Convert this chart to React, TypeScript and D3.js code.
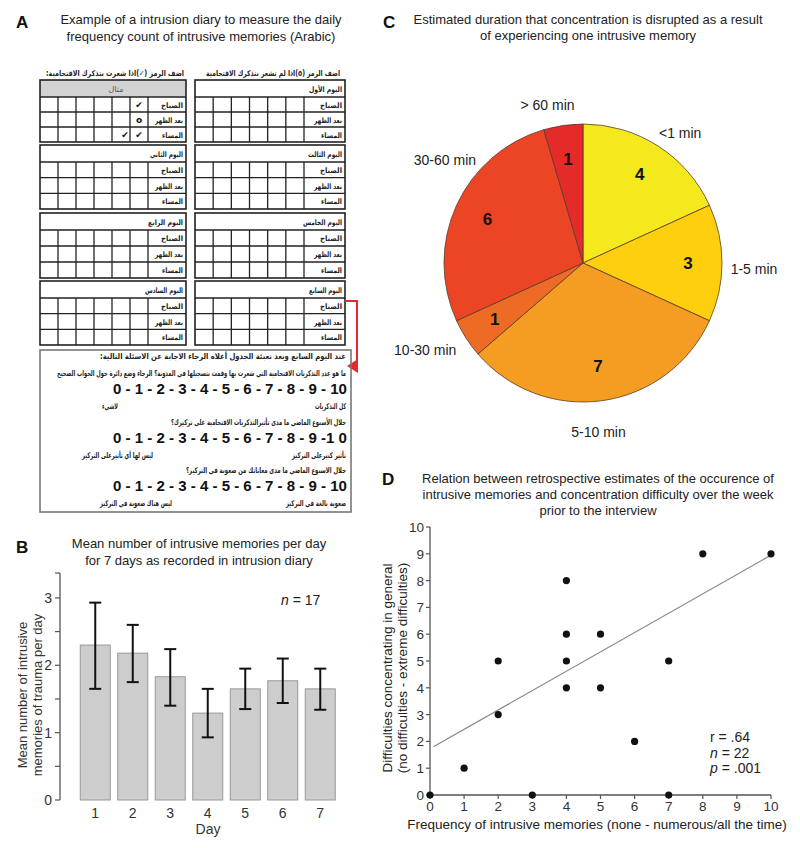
import React from 'react';
import * as d3 from 'd3';

const SANS = '"Liberation Sans", Arial, Helvetica, sans-serif';
const ARABIC = '"DejaVu Sans", "Noto Sans", sans-serif';
const rtl = (s: string) => '\u202B' + s + '\u202C';

// ---------- Panel A content ----------
const diaryTitle = ['Example of a intrusion diary to measure the daily', 'frequency count of intrusive memories (Arabic)'];
const headerRight = 'اضف الرمز (o)اذا لم تشعر بتذكرك الاقتحامية';
const headerLeft = 'اضف الرمز (✓)اذا شعرت بتذكرك الاقتحامية:';
const dayNamesLeft = ['مثال', 'اليوم الثاني', 'اليوم الرابع', 'اليوم السادس'];
const dayNamesRight = ['اليوم الأول', 'اليوم الثالث', 'اليوم الخامس', 'اليوم السابع'];
const periods = ['الصباح', 'بعد الظهر', 'المساء'];
const exampleRows = [0, 1, 2, 2];
const exampleCols = [5, 5, 5, 4];
const exampleMarks = ['✔', 'o', '✔', '✔'];
const questionIntro = 'عند اليوم السابع وبعد تعبئة الجدول أعلاه الرجاء الاجابة عن الاسئلة التالية:';
const questions = [
  'ما هو عدد التذكريات الاقتحامية التي شعرت بها وقمت بتسجيلها في المدونة؟ الرجاء وضع دائرة حول الجواب الصحيح',
  'خلال الأسبوع الماضي ما مدى تأثيرالتذكريات الاقتحامية على تركيزك؟',
  'خلال الاسبوع الماضي ما مدى معاناتك من صعوبة في التركيز؟',
];
const scaleLines = [
  '0 - 1 - 2 - 3 - 4 - 5 - 6 - 7 - 8 - 9 - 10',
  '0 - 1 - 2 - 3 - 4 - 5 - 6 - 7 - 8 - 9 -1 0',
  '0 - 1 - 2 - 3 - 4 - 5 - 6 - 7 - 8 - 9 - 10',
];
const anchorRight = ['كل التذكريات', 'تأثير كبيرعلى التركيز', 'صعوبة بالغة في التركيز'];
const anchorLeft = ['لاشيء', 'ليس لها أي تأثيرعلى التركيز', 'ليس هناك صعوبة في التركيز'];

// text widths (layout only)
const titleWLeft = [0, 33, 35, 38];
const titleWRight = [33, 34, 39, 33];
const periodW = [22, 28, 21];

// ---------- Panel B data ----------
const bTitle = ['Mean number of intrusive memories per day', 'for 7 days as recorded in intrusion diary'];
const days = ['1', '2', '3', '4', '5', '6', '7'];
const dayMeans = [2.3, 2.18, 1.83, 1.29, 1.65, 1.77, 1.65];
const dayErrLow = [1.65, 1.75, 1.4, 0.93, 1.35, 1.44, 1.34];
const dayErrHigh = [2.93, 2.6, 2.24, 1.65, 1.95, 2.1, 1.95];
const bYTicks = [0, 0.5, 1, 1.5, 2, 2.5, 3, 3.37];
const bYLabels = [0, 1, 2, 3];

// ---------- Panel C data ----------
const cTitle = ['Estimated duration that concentration is disrupted as a result', 'of experiencing one intrusive memory'];
const durationLabels = ['<1 min', '1-5 min', '5-10 min', '10-30 min', '30-60 min', '> 60 min'];
const durationCounts = [4, 3, 7, 1, 6, 1];
const durationColors = ['#f4e91c', '#fdcf0e', '#f59d22', '#ee6b25', '#eb4525', '#e52a2a'];
const labelNudgeX = [8, 6, -8, -19, 12, -12];
const labelNudgeY = [9, 6, 6, -2, -34, 5];

// ---------- Panel D data ----------
const dTitle = [
  'Relation between retrospective estimates of the occurence of',
  'intrusive memories and concentration difficulty over the week',
  'prior to the interview',
];
const freqX = [0, 1, 2, 2, 3, 4, 4, 4, 4, 5, 5, 6, 7, 7, 8, 10];
const diffY = [0, 1, 5, 3, 0, 8, 6, 5, 4, 6, 4, 2, 5, 0, 9, 9];
const regIntercept = 1.73;
const regSlope = 0.722;
const regRange = [0.1, 10];
const dTicks = [0, 1, 2, 3, 4, 5, 6, 7, 8, 9, 10];

const Block = ({ x0, x1, top, h, title, titleW, example }: any) => {
  const headerH = 17;
  const rowH = (h - headerH) / 3;
  const labelW = x1 - x0 > 148 ? 41 : 38;
  const cellW = (x1 - x0 - labelW) / 6;
  return (
    <g>
      <rect x={x0} y={top} width={x1 - x0} height={headerH} fill={example ? '#d2d2d2' : '#fff'} stroke="none" />
      {periods.map((p, r) => (
        <line key={'h' + r} x1={x0} x2={x1} y1={top + headerH + r * rowH} y2={top + headerH + r * rowH} stroke="#222" strokeWidth={1.3} />
      ))}
      {d3.range(1, 7).map((c) => (
        <line key={'v' + c} x1={x0 + c * cellW} x2={x0 + c * cellW} y1={top + headerH} y2={top + h} stroke="#222" strokeWidth={1.3} />
      ))}
      <rect x={x0} y={top} width={x1 - x0} height={h} fill="none" stroke="#222" strokeWidth={1.6} />
      {example ? (
        <text x={(x0 + x1) / 2 + 3} y={top + 12} fontFamily={ARABIC} fontSize={8} fill="#555" textAnchor="middle">{title}</text>
      ) : (
        <text x={x1 - 3} y={top + 12} fontFamily={ARABIC} fontSize={7.5} fontWeight="bold" fill="#222" textAnchor="end"
          textLength={titleW} lengthAdjust="spacingAndGlyphs">{rtl(title)}</text>
      )}
      {periods.map((p, r) => (
        <text key={'p' + r} x={x1 - 3} y={top + headerH + r * rowH + rowH / 2 + 3} fontFamily={ARABIC} fontSize={7.5} fontWeight="bold" fill="#222" textAnchor="end"
          textLength={periodW[r]} lengthAdjust="spacingAndGlyphs">{rtl(p)}</text>
      ))}
      {example &&
        exampleMarks.map((m, i) => (
          <text key={'m' + i} x={x0 + exampleCols[i] * cellW + cellW / 2 + (exampleCols[i] === 4 ? 4 : 0)} y={top + headerH + exampleRows[i] * rowH + rowH / 2 + 3.5}
            fontFamily={ARABIC} fontSize={9} fontWeight="bold" fill="#111" textAnchor="middle">{m}</text>
        ))}
    </g>
  );
};

const ArText = ({ x, y, len, children }: any) => (
  <text x={x} y={y} fontFamily={ARABIC} fontSize={8} fontWeight="bold" fill="#222"
    textAnchor="end" textLength={len} lengthAdjust="spacingAndGlyphs">{rtl(children)}</text>
);

export default function App() {
  // Panel B scales
  const yB = d3.scaleLinear().domain([0, 3.37]).range([800, 573]);
  const xB = d3.scaleBand().domain(days).range([76.5, 339]).paddingInner(0.2).paddingOuter(0.1);

  // Panel C
  const cx = 583, cy = 263, R = 139;
  const pie = d3.pie<number>().sort(null).value((d) => d)(durationCounts);
  const arc = d3.arc<any>().innerRadius(0).outerRadius(R);
  const numArc = d3.arc<any>().innerRadius(105).outerRadius(105);
  const labArc = d3.arc<any>().innerRadius(165).outerRadius(165);

  // Panel D
  const xD = d3.scaleLinear().domain([0, 10]).range([430, 771]);
  const yD = d3.scaleLinear().domain([0, 10]).range([795, 527]);

  const blockTops = [80, 145, 213, 281];
  const blockH = [62, 64, 65, 64];

  return (
    <svg width={800} height={848} style={{ position: 'absolute', left: 0, top: 0, background: '#fff' }} fontFamily={SANS}>
      <rect x={0} y={0} width={800} height={848} fill="#fff" />
      {/* ---------- Panel A ---------- */}
      <text x={16} y={28} fontSize={17} fontWeight="bold" fill="#111">A</text>
      {diaryTitle.map((t, i) => (
        <text key={i} x={201} y={24 + i * 17} fontSize={13} fill="#222" textAnchor="middle">{t}</text>
      ))}
      <ArText x={340} y={76} len={134}>{headerRight}</ArText>
      <ArText x={184} y={76} len={138}>{headerLeft}</ArText>
      {blockTops.map((t, i) => (
        <g key={i}>
          <Block x0={40} x1={186} top={t} h={blockH[i]} title={dayNamesLeft[i]} titleW={titleWLeft[i]} example={i === 0} />
          <Block x0={195} x1={345} top={t} h={blockH[i]} title={dayNamesRight[i]} titleW={titleWRight[i]} example={false} />
        </g>
      ))}
      {/* red connector */}
      <path d="M345,301 H357 V366" fill="none" stroke="#e8282a" strokeWidth={2} />
      <polygon points="347,366 358,359 358,373" fill="#e8282a" />
      {/* question box */}
      <rect x={40} y={350} width={311} height={162} fill="none" stroke="#777" strokeWidth={1.6} />
      <ArText x={346} y={359} len={246}>{questionIntro}</ArText>
      {questions.map((q, i) => {
        const base = [376, 425, 473][i];
        const lens = [289, 175, 160];
        return (
          <g key={i}>
            <ArText x={346} y={base} len={lens[i]}>{q}</ArText>
            <text x={113} y={base + 18} fontSize={14} fontWeight="bold" fill="#111" textLength={234} lengthAdjust="spacingAndGlyphs">{scaleLines[i]}</text>
            <ArText x={346} y={base + 33} len={[31, 54, 60][i]}>{anchorRight[i]}</ArText>
            <ArText x={[118, 153, 172][i]} y={base + 33} len={[16, 71, 72][i]}>{anchorLeft[i]}</ArText>
          </g>
        );
      })}

      {/* ---------- Panel B ---------- */}
      <text x={16} y={553} fontSize={17} fontWeight="bold" fill="#111">B</text>
      {bTitle.map((t, i) => (
        <text key={i} x={199} y={548 + i * 17} fontSize={13} fill="#222" textAnchor="middle">{t}</text>
      ))}
      <line x1={60} x2={60} y1={yB(3.37)} y2={yB(0)} stroke="#555" strokeWidth={1.3} />
      {bYTicks.map((t) => (
        <line key={t} x1={55} x2={60} y1={yB(t)} y2={yB(t)} stroke="#555" strokeWidth={1.2} />
      ))}
      {bYLabels.map((t) => (
        <text key={t} x={52} y={yB(t) + 5} fontSize={14} fill="#333" textAnchor="end">{t}</text>
      ))}
      <text transform={`translate(27,695) rotate(-90)`} fontSize={13} fill="#333" textAnchor="middle">
        <tspan x={0} dy={0}>Mean number of intrusive</tspan>
        <tspan x={0} dy={15}>memories of trauma per day</tspan>
      </text>
      {days.map((d, i) => {
        const x = xB(d)!;
        const w = xB.bandwidth();
        const cxb = x + w / 2;
        return (
          <g key={d}>
            <rect x={x} y={yB(dayMeans[i])} width={w} height={yB(0) - yB(dayMeans[i])} fill="#cdcdcd" stroke="#999" strokeWidth={1} />
            <line x1={cxb} x2={cxb} y1={yB(dayErrLow[i])} y2={yB(dayErrHigh[i])} stroke="#111" strokeWidth={2} />
            <line x1={cxb - 6} x2={cxb + 6} y1={yB(dayErrLow[i])} y2={yB(dayErrLow[i])} stroke="#111" strokeWidth={2} />
            <line x1={cxb - 6} x2={cxb + 6} y1={yB(dayErrHigh[i])} y2={yB(dayErrHigh[i])} stroke="#111" strokeWidth={2} />
            <text x={cxb} y={818} fontSize={14} fill="#333" textAnchor="middle">{d}</text>
          </g>
        );
      })}
      <text x={208} y={834} fontSize={14} fill="#333" textAnchor="middle">Day</text>
      <text x={281} y={605} fontSize={14} fill="#222"><tspan fontStyle="italic">n</tspan> = 17</text>

      {/* ---------- Panel C ---------- */}
      <text x={383} y={28} fontSize={17} fontWeight="bold" fill="#111">C</text>
      {cTitle.map((t, i) => (
        <text key={i} x={588} y={24 + i * 16} fontSize={13} fill="#222" textAnchor="middle">{t}</text>
      ))}
      <g transform={`translate(${cx},${cy})`}>
        {pie.map((p, i) => (
          <path key={i} d={arc(p)!} fill={durationColors[i]} stroke="#5a3b2b" strokeWidth={0.8} />
        ))}
        {pie.map((p, i) => {
          const [nx, ny] = numArc.centroid(p);
          return (
            <text key={'n' + i} x={nx} y={ny} fontSize={17} fontWeight="bold" fill="#111" textAnchor="middle" dominantBaseline="central">{durationCounts[i]}</text>
          );
        })}
        {pie.map((p, i) => {
          const [lx, ly] = labArc.centroid(p);
          return (
            <text key={'l' + i} x={lx + labelNudgeX[i]} y={ly + labelNudgeY[i]} fontSize={14} fill="#222" textAnchor="middle" dominantBaseline="central">{durationLabels[i]}</text>
          );
        })}
      </g>

      {/* ---------- Panel D ---------- */}
      <text x={382} y={485} fontSize={17} fontWeight="bold" fill="#111">D</text>
      {dTitle.map((t, i) => (
        <text key={i} x={598} y={483 + i * 16} fontSize={13} fill="#222" textAnchor="middle">{t}</text>
      ))}
      <line x1={xD(0)} x2={xD(0)} y1={yD(10)} y2={yD(0)} stroke="#555" strokeWidth={1.3} />
      <line x1={xD(0)} x2={xD(10)} y1={yD(0)} y2={yD(0)} stroke="#555" strokeWidth={1.3} />
      {dTicks.map((t) => (
        <g key={t}>
          <line x1={xD(0) - 4} x2={xD(0)} y1={yD(t)} y2={yD(t)} stroke="#555" strokeWidth={1.2} />
          <text x={xD(0) - 6} y={yD(t) + 5} fontSize={13.5} fill="#333" textAnchor="end">{t}</text>
          <line x1={xD(t)} x2={xD(t)} y1={yD(0)} y2={yD(0) + 4} stroke="#555" strokeWidth={1.2} />
          <text x={xD(t)} y={811} fontSize={13.5} fill="#333" textAnchor="middle">{t}</text>
        </g>
      ))}
      <text x={597} y={829} fontSize={13.5} fill="#222" textAnchor="middle">Frequency of intrusive memories (none - numerous/all the time)</text>
      <text transform={`translate(392,668) rotate(-90)`} fontSize={13.5} fill="#222" textAnchor="middle">
        <tspan x={0} dy={0}>Difficulties concentrating in general</tspan>
        <tspan x={0} dy={15}>(no difficulties - extreme difficulties)</tspan>
      </text>
      <line x1={xD(regRange[0])} x2={xD(regRange[1])} y1={yD(regIntercept + regSlope * regRange[0])} y2={yD(regIntercept + regSlope * regRange[1])} stroke="#888" strokeWidth={1.2} />
      {freqX.map((x, i) => (
        <circle key={i} cx={xD(x)} cy={yD(diffY[i])} r={3.6} fill="#111" />
      ))}
      <text x={710} y={742} fontSize={14} fill="#222">r = .64</text>
      <text x={710} y={758} fontSize={14} fill="#222"><tspan fontStyle="italic">n</tspan> = 22</text>
      <text x={710} y={773} fontSize={14} fill="#222"><tspan fontStyle="italic">p</tspan> = .001</text>
    </svg>
  );
}
